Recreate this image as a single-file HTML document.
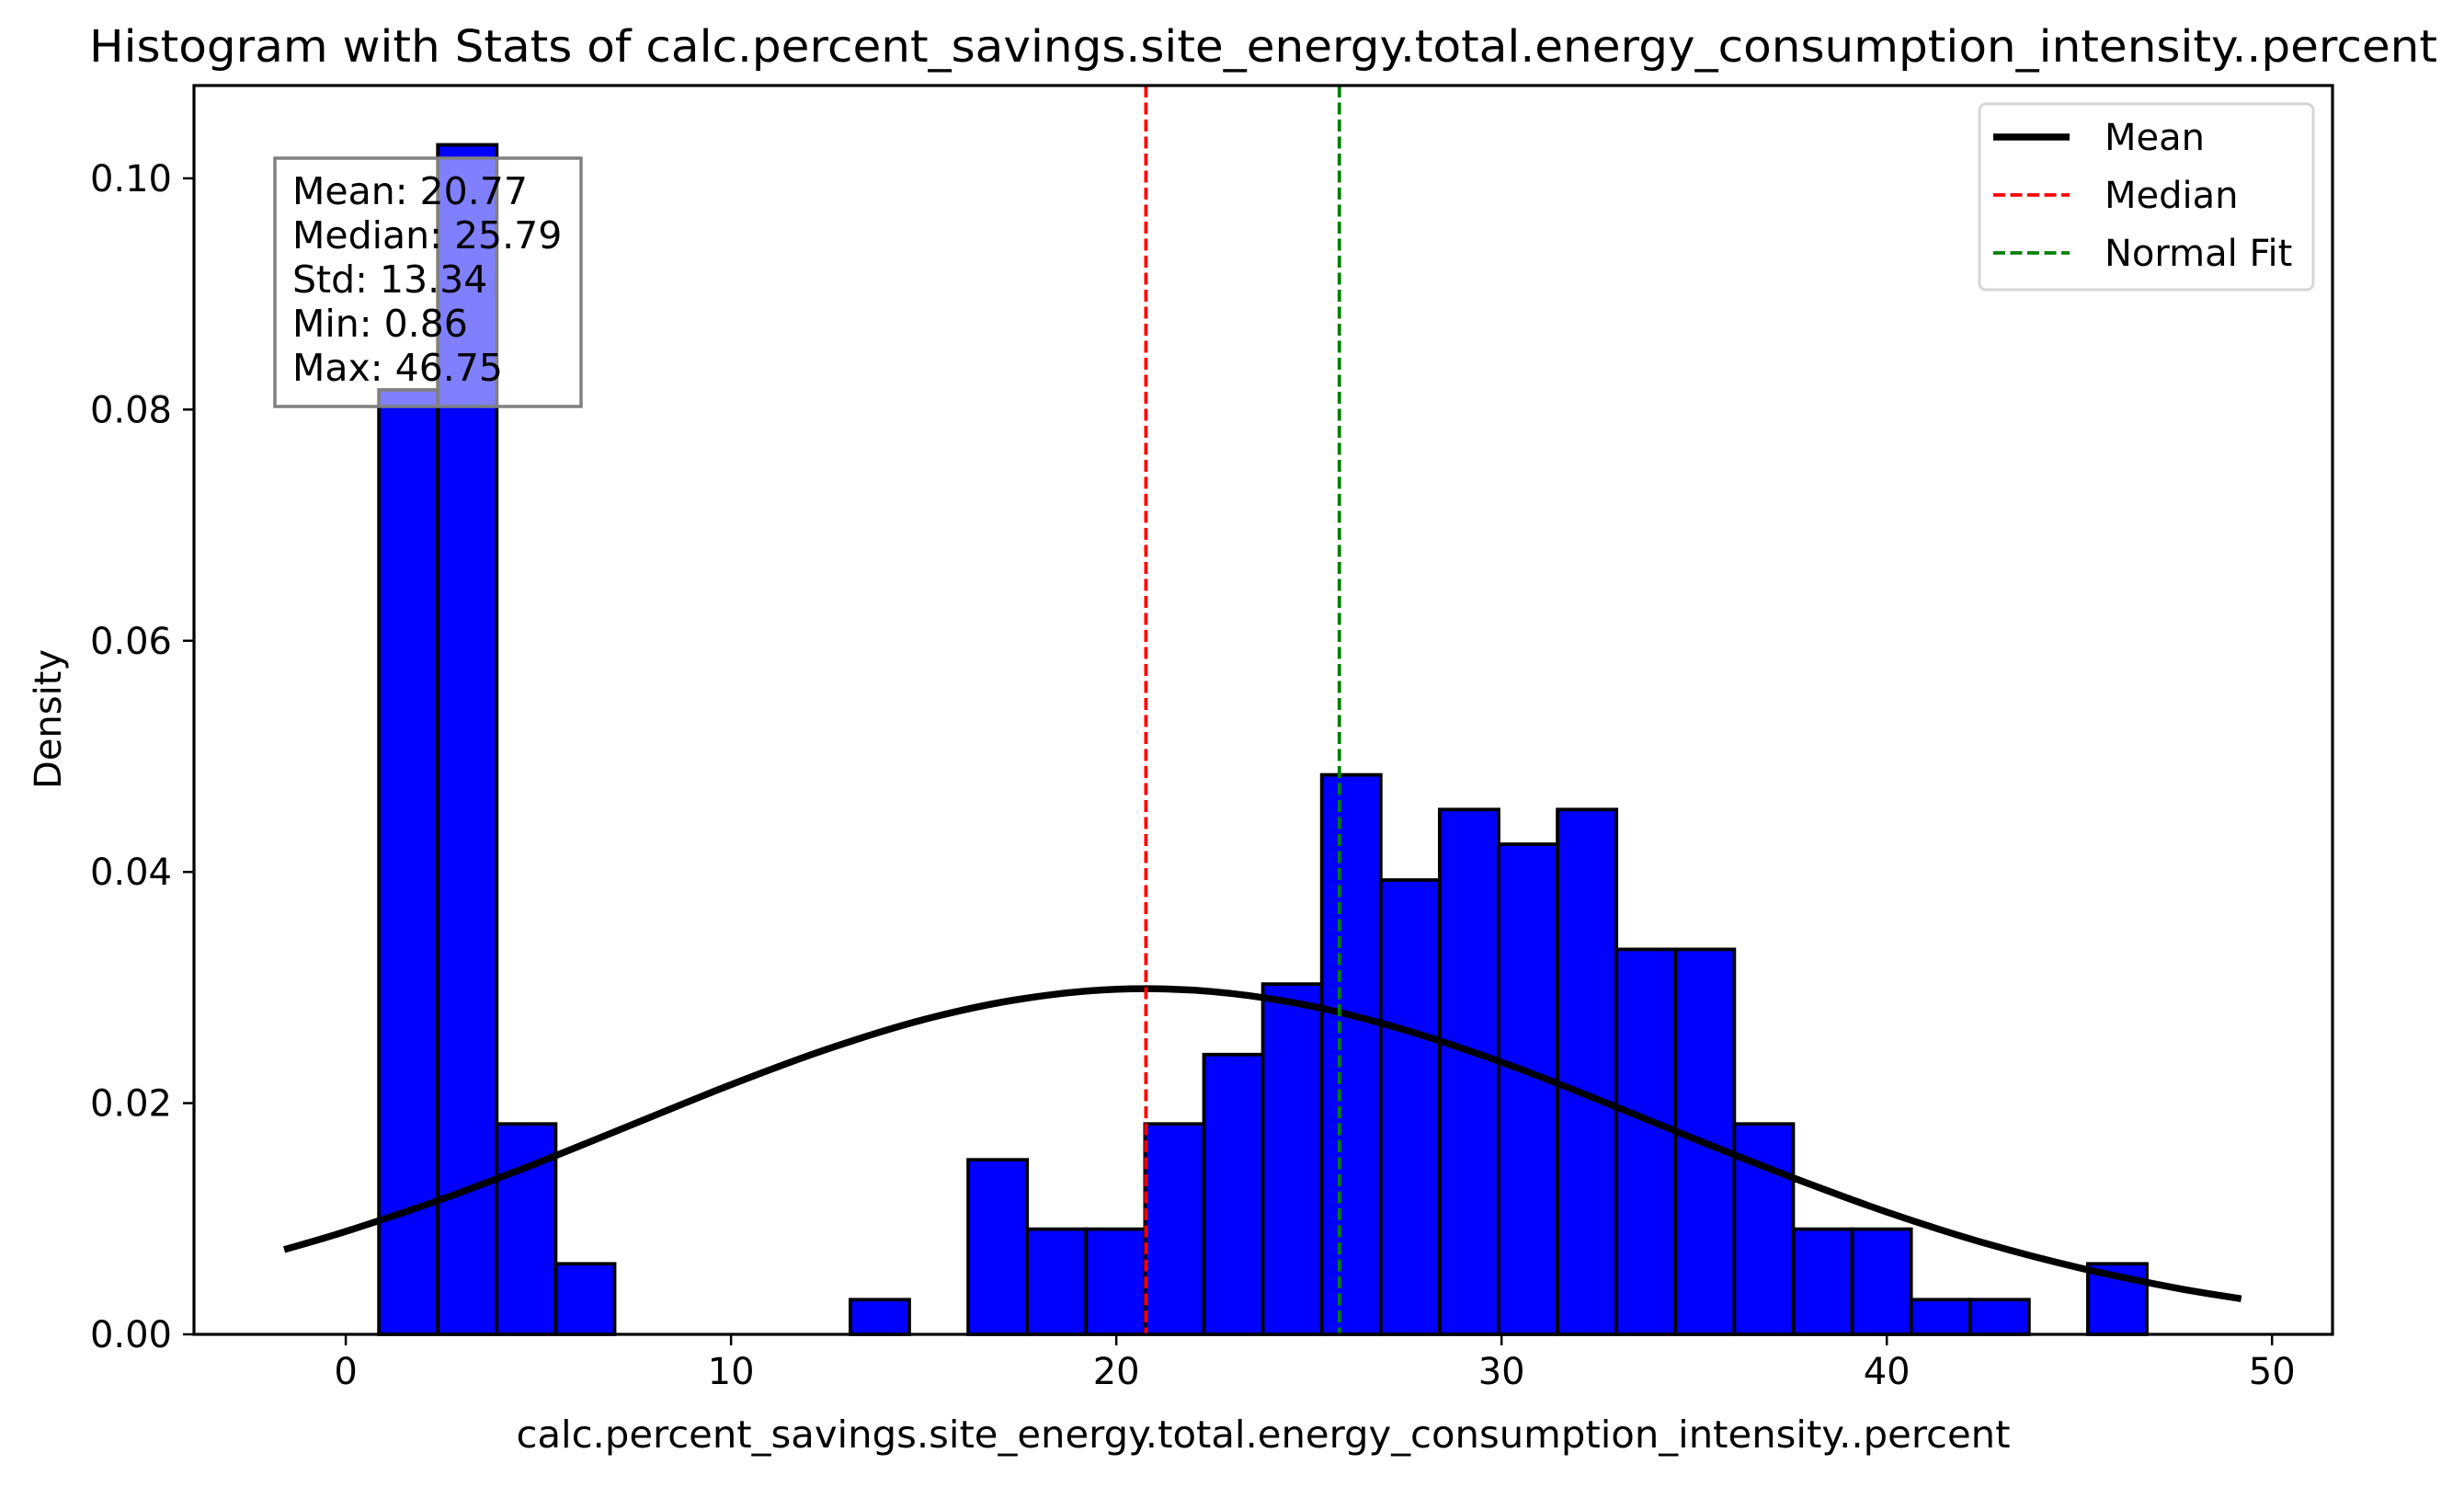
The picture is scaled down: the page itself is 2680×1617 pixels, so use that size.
<!DOCTYPE html>
<html><head><meta charset="utf-8"><style>
html,body{margin:0;padding:0;background:#fff;}
svg text{font-family:"DejaVu Sans","Liberation Sans",sans-serif;fill:#000;}
</style></head>
<body>
<svg id="chart" xmlns="http://www.w3.org/2000/svg" width="2680" height="1612" viewBox="0 0 2680 1612">
<rect x="0" y="0" width="2680" height="1612" fill="#fff"/>
<text x="1374" y="67" font-size="48" text-anchor="middle" textLength="2554" lengthAdjust="spacingAndGlyphs">Histogram with Stats of calc.percent_savings.site_energy.total.energy_consumption_intensity..percent</text>
<g id="plot"></g>
<text x="1374" y="1574" font-size="41" text-anchor="middle" textLength="1625" lengthAdjust="spacingAndGlyphs">calc.percent_savings.site_energy.total.energy_consumption_intensity..percent</text>
<text x="0" y="0" font-size="40" text-anchor="middle" transform="translate(66,782) rotate(-90)">Density</text>
</svg>
<script>
const binStart = 0.86;
const binEnd = 46.75;
const densities = [0.0817,0.1029,0.0182,0.0061,0,0,0,0,0.0030,0,0.0151,0.0091,0.0091,0.0182,0.0242,0.0303,0.0484,0.0393,0.0454,0.0424,0.0454,0.0333,0.0333,0.0182,0.0091,0.0091,0.0030,0.0030,0,0.0061];
const curveX = [-1.6,0,2.5,5,7.5,10,12.5,15,17.5,20,22.5,25,27.5,30,32.5,35,37.5,40,42.5,45,47.5,49.2];
const curveY = [0.00733,0.0089,0.0117,0.01486,0.01823,0.0216,0.02468,0.02723,0.0290,0.02985,0.02965,0.02843,0.02632,0.02354,0.02031,0.01692,0.01363,0.01058,0.00793,0.00575,0.00401,0.00308];
const meanValue = 20.77;
const medianValue = 25.79;
const xTicks = [0,10,20,30,40,50];
const yTicks = [0,0.02,0.04,0.06,0.08,0.10];
const yTickLabels = ["0.00","0.02","0.04","0.06","0.08","0.10"];
const statsLines = ["Mean: 20.77","Median: 25.79","Std: 13.34","Min: 0.86","Max: 46.75"];

const L=211,R=2537,T=93,B=1451;
const X0=-3.94,X1=51.57,Y0=0,Y1=0.10803;
const sx=v=>L+(v-X0)/(X1-X0)*(R-L);
const sy=v=>B-(v-Y0)/(Y1-Y0)*(B-T);
const NS="http://www.w3.org/2000/svg";
const plot=document.getElementById('plot');
function mk(tag,attrs,parent){const e=document.createElementNS(NS,tag);for(const k in attrs)e.setAttribute(k,attrs[k]);(parent||plot).appendChild(e);return e;}

const bw=(binEnd-binStart)/densities.length;
densities.forEach((d,i)=>{
  const x0=sx(binStart+i*bw),x1=sx(binStart+(i+1)*bw);
  const r=mk('rect',{x:x0,y:sy(d),width:x1-x0,height:sy(0)-sy(d),fill:'#0000ff',stroke:'#000','stroke-width':3.8});
  
  
});
// smooth rendering (Catmull-Rom) through the curve points
const pts=curveX.map((x,i)=>[sx(x),sy(curveY[i])]);
let dpath='M'+pts[0][0].toFixed(1)+' '+pts[0][1].toFixed(1);
for(let i=0;i<pts.length-1;i++){
  const p0=pts[Math.max(0,i-1)],p1=pts[i],p2=pts[i+1],p3=pts[Math.min(pts.length-1,i+2)];
  const c1=[p1[0]+(p2[0]-p0[0])/6,p1[1]+(p2[1]-p0[1])/6];
  const c2=[p2[0]-(p3[0]-p1[0])/6,p2[1]-(p3[1]-p1[1])/6];
  dpath+=' C'+c1[0].toFixed(1)+' '+c1[1].toFixed(1)+' '+c2[0].toFixed(1)+' '+c2[1].toFixed(1)+' '+p2[0].toFixed(1)+' '+p2[1].toFixed(1);
}
const c=mk('path',{d:dpath,fill:'none',stroke:'#000','stroke-width':7.5,'stroke-linejoin':'round'});


const ml=mk('line',{x1:sx(meanValue),x2:sx(meanValue),y1:T,y2:B,stroke:'#ff0000','stroke-width':3.8,'stroke-dasharray':'13 5.5'});


const mdl=mk('line',{x1:sx(medianValue),x2:sx(medianValue),y1:T,y2:B,stroke:'#008000','stroke-width':3.8,'stroke-dasharray':'13 5.5'});



// stats box
const sb=mk('rect',{x:299,y:172,width:333,height:270,fill:'rgba(255,255,255,0.5)',stroke:'#808080','stroke-width':3.5});


statsLines.forEach((s,i)=>{
  const t=mk('text',{x:318,y:222+i*48,'font-size':41});
  t.textContent=s;
  
  
});

// axes frame
const fr=mk('rect',{x:L,y:T,width:R-L,height:B-T,fill:'none',stroke:'#000','stroke-width':3.2});


xTicks.forEach(v=>{
  const x=sx(v);
  const tk=mk('line',{x1:x,x2:x,y1:B,y2:B+12,stroke:'#000','stroke-width':2.5});
  
  
  const t=mk('text',{x:x,y:B+54,'font-size':40,'text-anchor':'middle'});
  t.textContent=String(v);
  
  
});
yTicks.forEach((v,i)=>{
  const y=sy(v);
  const tk=mk('line',{x1:L-12,x2:L,y1:y,y2:y,stroke:'#000','stroke-width':2.5});
  
  
  const t=mk('text',{x:L-24,y:y+14,'font-size':40,'text-anchor':'end'});
  t.textContent=yTickLabels[i];
  
  
});

// legend
const lg=mk('rect',{x:2153,y:113,width:363,height:202,rx:7,fill:'rgba(255,255,255,0.8)',stroke:'#d6d6d6','stroke-width':3});


const legendNames=["Mean","Median","Normal Fit"];
const legendStyles=[['#000',7.5,''],['#ff0000',3.8,'13 5.5'],['#008000',3.8,'13 5.5']];
legendNames.forEach((n,i)=>{
  const y=149+i*63;
  const a={x1:2168,x2:2251,y1:y,y2:y,stroke:legendStyles[i][0],'stroke-width':legendStyles[i][1]};
  if(legendStyles[i][2])a['stroke-dasharray']=legendStyles[i][2];
  const ln=mk('line',a);
  
  
  const t=mk('text',{x:2289,y:y+14,'font-size':40});
  t.textContent=n;
  
  
});
</script>
</body></html>
